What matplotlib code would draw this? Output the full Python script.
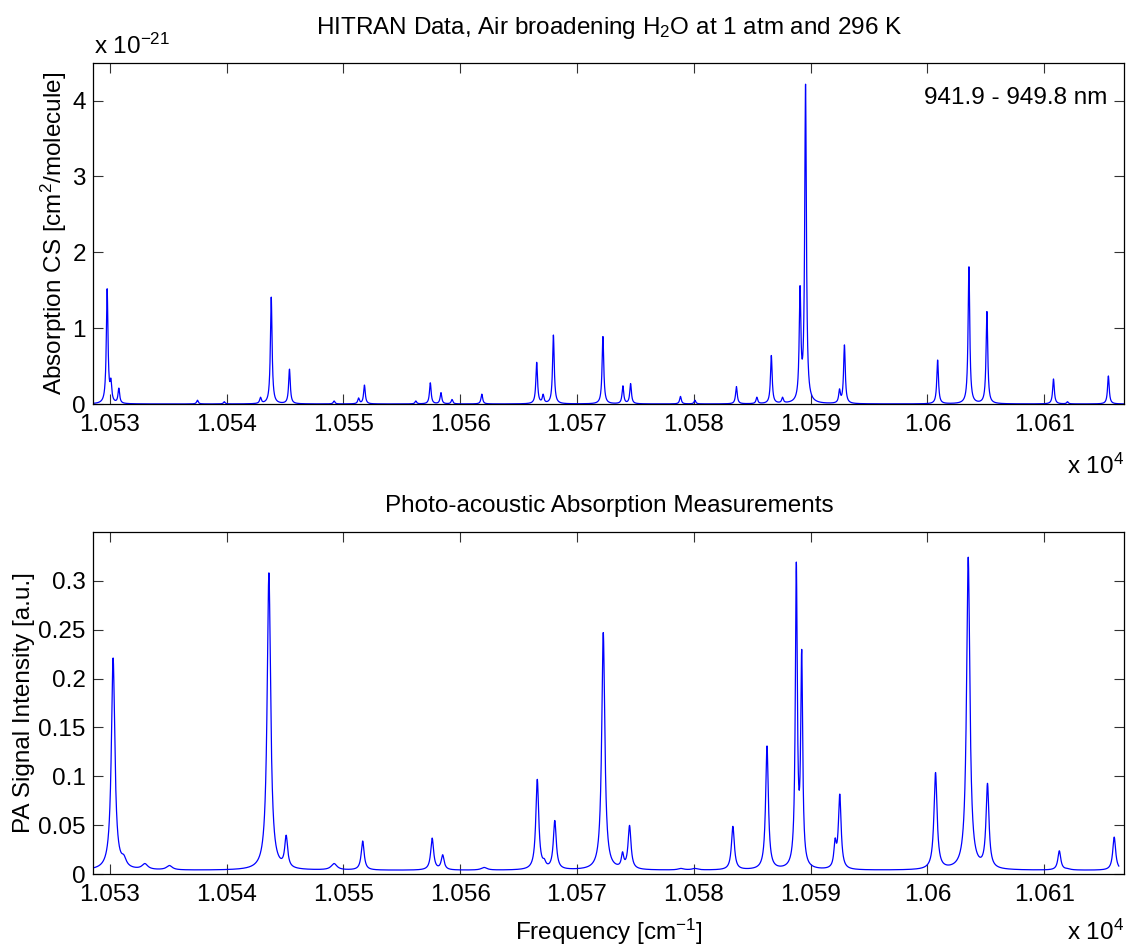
"""Recreate the HITRAN vs photo-acoustic H2O spectrum comparison (941.9 - 949.8 nm)."""

import numpy as np
import matplotlib

matplotlib.use("Agg")
from matplotlib import pyplot as plt
from matplotlib.ticker import FixedLocator, FuncFormatter

# HITRAN lines: centre [cm^-1], peak height [1e-21 cm^2/molecule]
hitran_centers = [
    10529.77, 10530.09, 10530.77, 10537.5, 10539.8, 10542.9, 10543.82, 10545.38,
    10549.2, 10551.3, 10551.8, 10556.2, 10557.44, 10558.35, 10559.3, 10561.85,
    10566.55, 10567.1, 10567.98, 10572.22, 10573.93, 10574.59, 10578.86, 10580.1,
    10583.65, 10585.4, 10586.64, 10587.6, 10589.1, 10589.57, 10592.48, 10592.9,
    10600.88, 10603.56, 10605.1, 10610.8, 10612.0, 10615.5,
]
hitran_peaks = [
    1.52, 0.34, 0.21, 0.05, 0.03, 0.09, 1.41, 0.46,
    0.04, 0.08, 0.25, 0.04, 0.28, 0.15, 0.06, 0.13,
    0.55, 0.13, 0.91, 0.89, 0.24, 0.27, 0.10, 0.05,
    0.23, 0.09, 0.64, 0.09, 1.56, 4.22, 0.20, 0.78,
    0.58, 1.81, 1.22, 0.33, 0.03, 0.37,
]
hitran_hwhm = 0.085

pa_centers = [
    10530.28, 10531.2, 10533.0, 10535.1, 10543.62, 10545.1, 10549.2, 10551.65,
    10557.6, 10558.5, 10562.05, 10566.6, 10567.2, 10568.1, 10572.25, 10573.9,
    10574.5, 10578.9, 10580.1, 10583.35, 10585.4, 10586.27, 10587.6, 10588.78,
    10589.24, 10592.1, 10592.5, 10600.7, 10603.5, 10605.15, 10611.3, 10612.0,
    10616.0,
]
pa_peaks = [
    0.221, 0.020, 0.011, 0.009, 0.308, 0.040, 0.011, 0.034,
    0.037, 0.020, 0.007, 0.097, 0.016, 0.055, 0.247, 0.023,
    0.050, 0.006, 0.006, 0.049, 0.007, 0.131, 0.008, 0.319,
    0.230, 0.037, 0.082, 0.104, 0.324, 0.093, 0.024, 0.006,
    0.038,
]
pa_hwhm = [
    0.18, 0.25, 0.3, 0.3, 0.18, 0.15, 0.3, 0.15,
    0.15, 0.15, 0.3, 0.15, 0.15, 0.15, 0.16, 0.12,
    0.15, 0.3, 0.3, 0.15, 0.3, 0.14, 0.3, 0.1,
    0.1, 0.12, 0.14, 0.16, 0.17, 0.15, 0.15, 0.3,
    0.15,
]
pa_baseline = 0.004
pa_scan_end = 10616.4

nu_min = 1e7 / 949.8
nu_max = 1e7 / 941.9

x_ticks = [10530, 10540, 10550, 10560, 10570, 10580, 10590, 10600, 10610]
hitran_yticks = [0, 1, 2, 3, 4]
pa_yticks = [0, 0.05, 0.1, 0.15, 0.2, 0.25, 0.3]

plt.rcParams["font.family"] = ["Liberation Sans", "DejaVu Sans"]
plt.rcParams["font.size"] = 17.5
plt.rcParams["mathtext.default"] = "regular"

BLUE = "#0000ff"


def lorentz(x, center, hwhm):
    return 1.0 / (1.0 + ((x - center) / hwhm) ** 2)


def spectrum(nu, centers, peaks, hwhm, baseline=0.0):
    # Solve for line amplitudes so the summed profile reproduces the read peak heights.
    c = np.asarray(centers)
    w = np.broadcast_to(np.asarray(hwhm, dtype=float), c.shape)
    target = np.asarray(peaks) - baseline
    overlap = lorentz(c[:, None], c[None, :], w[None, :])
    amps = np.clip(np.linalg.solve(overlap, target), 0, None)
    return baseline + (amps[None, :] * lorentz(nu[:, None], c[None, :], w[None, :])).sum(axis=1)


def style_axes(ax, yticks, ylim):
    ax.set_xlim(nu_min, nu_max)
    ax.set_ylim(*ylim)
    ax.xaxis.set_major_locator(FixedLocator(x_ticks))
    ax.xaxis.set_major_formatter(FuncFormatter(lambda v, _: f"{v / 1e4:g}"))
    ax.yaxis.set_major_locator(FixedLocator(yticks))
    ax.yaxis.set_major_formatter(FuncFormatter(lambda v, _: f"{v:g}"))
    ax.tick_params(direction="in", top=True, right=True, length=7.5, width=0.8, color="#333333")
    ax.tick_params(axis="x", pad=7)
    ax.tick_params(axis="y", pad=5)
    for spine in ax.spines.values():
        spine.set_linewidth(0.9)


fig = plt.figure(figsize=(11.26, 9.47), dpi=100)
W, H = 1126, 947
left, right = 92.7 / W, 1124.0 / W
ax_top = fig.add_axes([left, 1 - 404 / H, right - left, (404 - 62.7) / H])
ax_bot = fig.add_axes([left, 1 - 874.3 / H, right - left, (874.3 - 531.7) / H])

nu_top = np.arange(nu_min, nu_max, 0.01)
ax_top.plot(nu_top, spectrum(nu_top, hitran_centers, hitran_peaks, hitran_hwhm),
            color=BLUE, linewidth=0.9)
style_axes(ax_top, hitran_yticks, (0, 4.5))
ax_top.text(0.984, 0.897, "941.9 - 949.8 nm", transform=ax_top.transAxes,
            ha="right", va="center")

nu_bot = np.arange(nu_min, pa_scan_end, 0.01)
ax_bot.plot(nu_bot, spectrum(nu_bot, pa_centers, pa_peaks, pa_hwhm, pa_baseline),
            color=BLUE, linewidth=0.9)
style_axes(ax_bot, pa_yticks, (0, 0.35))

cx = (92.7 + 1125) / 2 / W
fig.text(cx, 1 - 28 / H, "HITRAN Data, Air broadening H$_2$O at 1 atm and 296 K",
         ha="center", va="center")
fig.text(93.5 / W, 1 - 46 / H, r"x 10$^{-21}$", ha="left", va="center")
fig.text(54 / W, 1 - 233 / H, "Absorption CS [cm$^2$/molecule]",
         rotation=90, ha="center", va="center")
fig.text(1124 / W, 1 - 466 / H, "x 10$^4$", ha="right", va="center")

fig.text(cx, 1 - 506 / H, "Photo-acoustic Absorption Measurements", ha="center", va="center")
fig.text(24 / W, 1 - 703 / H, "PA Signal Intensity [a.u.]",
         rotation=90, ha="center", va="center")
fig.text(cx, 1 - 932 / H, "Frequency [cm$^{-1}$]", ha="center", va="center")
fig.text(1124 / W, 1 - 932 / H, "x 10$^4$", ha="right", va="center")

fig.savefig("out.png", dpi=100, facecolor="white")
